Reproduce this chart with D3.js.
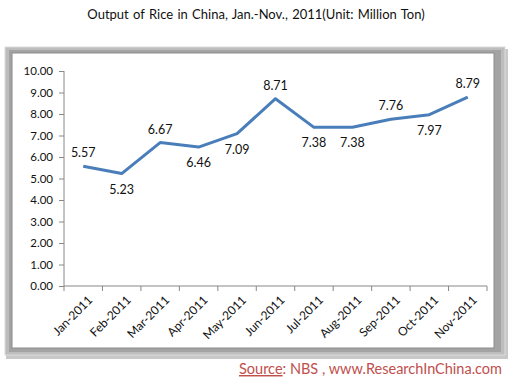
<!DOCTYPE html>
<html lang="en">
<head>
<meta charset="utf-8">
<title>Output of Rice in China</title>
<script src="https://d3js.org/d3.v7.min.js"></script>
<style>
  body { margin: 0; background: #fff; }
  svg text { font-family: Lato, "Open Sans", sans-serif; }
</style>
</head>
<body>
<div id="chart"></div>
<script>
// data
var months = ["Jan-2011", "Feb-2011", "Mar-2011", "Apr-2011", "May-2011", "Jun-2011",
              "Jul-2011", "Aug-2011", "Sep-2011", "Oct-2011", "Nov-2011"];
var output = [5.57, 5.23, 6.67, 6.46, 7.09, 8.71, 7.38, 7.38, 7.76, 7.97, 8.79];
// which labels sit above the point
var labelAbove = [true, false, true, false, false, true, false, false, true, false, true];
var yTicks = [0, 1, 2, 3, 4, 5, 6, 7, 8, 9, 10];

var W = 513, H = 384;
var svg = d3.select("#chart").append("svg")
    .attr("width", W).attr("height", H);

// title
svg.append("text")
    .attr("x", 256).attr("y", 19)
    .attr("text-anchor", "middle")
    .style("font-size", "13px")
    .style("fill", "#111")
    .style("word-spacing", "1px")
    .text("Output of Rice in China,  Jan.-Nov.,  2011(Unit:  Million  Ton)");

// frame (gray bevel border)
svg.append("rect").attr("x", 6).attr("y", 49).attr("width", 502).attr("height", 310)
    .style("fill", "#c8c8c8");
svg.append("rect").attr("x", 5).attr("y", 47).attr("width", 500).attr("height", 308)
    .style("fill", "#bdbdbd").style("stroke", "#dcdcdc").style("stroke-width", 1);
svg.append("rect").attr("x", 9).attr("y", 50).attr("width", 492).attr("height", 302)
    .style("fill", "#a3a3a3");
svg.append("rect").attr("x", 12).attr("y", 53).attr("width", 482).attr("height", 295)
    .style("fill", "#fff").style("stroke", "#8c8c8c").style("stroke-width", 1);

var margin = {left: 64, top: 71, right: 487, bottom: 286};

var x = d3.scaleBand().domain(months).range([margin.left, margin.right]);
var y = d3.scaleLinear().domain([0, 10]).range([margin.bottom, margin.top]);

// y axis
var yAxis = svg.append("g")
    .attr("transform", "translate(" + margin.left + ",0)")
    .call(d3.axisLeft(y).tickValues(yTicks).tickSize(5).tickPadding(6)
        .tickFormat(d3.format(".2f")));
yAxis.select(".domain").attr("stroke", "#888").attr("d", "M0," + margin.top + "V" + margin.bottom);
yAxis.selectAll(".tick line").attr("stroke", "#888");
yAxis.selectAll("text").style("font-size", "11.5px").style("fill", "#111");

// x axis
var xAxis = svg.append("g")
    .attr("transform", "translate(0," + margin.bottom + ")")
    .call(d3.axisBottom(x).tickSize(0).tickFormat(""));
xAxis.select(".domain").attr("stroke", "#888").attr("d", "M" + margin.left + ",0H" + margin.right);
// ticks between categories
var bounds = months.map(function (m) { return x(m); }).concat([margin.right]);
xAxis.selectAll(".sep").data(bounds).enter().append("line")
    .attr("x1", function (d) { return d; }).attr("x2", function (d) { return d; })
    .attr("y1", 0).attr("y2", 5).attr("stroke", "#888");

xAxis.selectAll(".lab").data(months).enter().append("text")
    .attr("transform", function (d) {
        return "translate(" + (x(d) + x.bandwidth() / 2 + 4) + ",9) rotate(-45)";
    })
    .attr("text-anchor", "end")
    .attr("dy", "0.7em")
    .style("font-size", "12px").style("fill", "#111")
    .text(function (d) { return d; });

// line
var line = d3.line()
    .x(function (d, i) { return x(months[i]) + x.bandwidth() / 2; })
    .y(function (d) { return y(d); });

svg.append("path").datum(output)
    .attr("d", line)
    .style("fill", "none")
    .style("stroke", "#4a7ebb")
    .style("stroke-width", 3)
    .style("stroke-linejoin", "round");

// value labels
svg.selectAll(".val").data(output).enter().append("text")
    .attr("x", function (d, i) { return x(months[i]) + x.bandwidth() / 2; })
    .attr("y", function (d, i) { return y(d) + (labelAbove[i] ? -9 : 20); })
    .attr("text-anchor", "middle")
    .style("font-size", "12.5px").style("fill", "#111")
    .text(function (d) { return d.toFixed(2); });

// source
var src = svg.append("text")
    .attr("x", 502).attr("y", 374)
    .attr("text-anchor", "end")
    .style("font-size", "14.5px").style("fill", "#c0504d");
src.append("tspan").style("text-decoration", "underline").text("Source");
src.append("tspan").text(": NBS , www.ResearchInChina.com");
</script>
</body>
</html>
